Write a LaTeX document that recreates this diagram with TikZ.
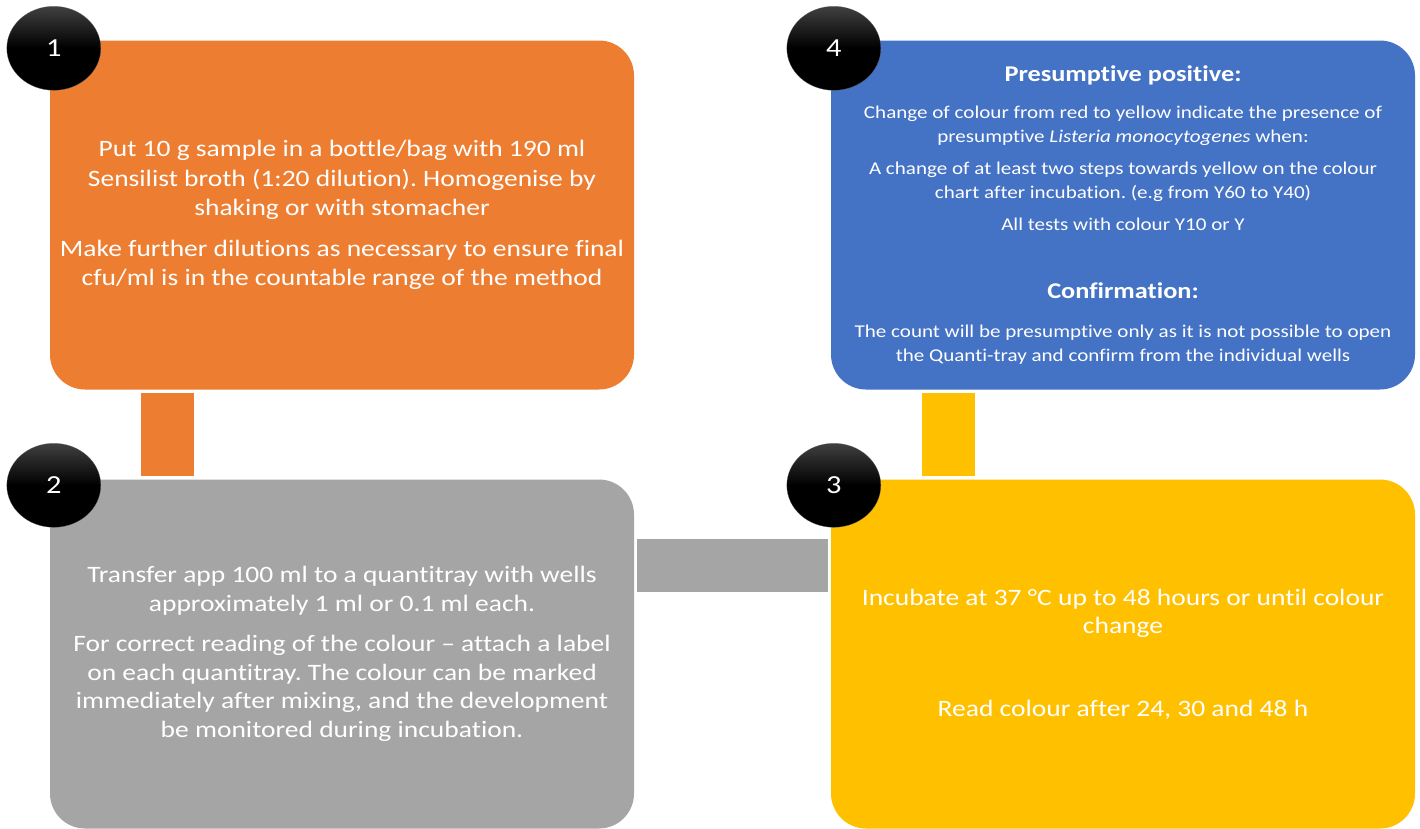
\documentclass[tikz,border=0pt]{standalone}
\usepackage{fontspec}
\setmainfont{Carlito}[FakeStretch=1.17, Ligatures=NoCommon]
\usetikzlibrary{shapes.geometric}
\frenchspacing

\definecolor{stageorange}{HTML}{ED7D31}
\definecolor{stagegray}{HTML}{A5A5A5}
\definecolor{stageyellow}{HTML}{FFC000}
\definecolor{stageblue}{HTML}{4472C4}

\begin{document}
\begin{tikzpicture}[x=1pt, y=-1pt,
  stage box/.style={rectangle, rounded corners=35pt, draw=none, fill=#1, text=white,
    minimum width=584pt, minimum height=349pt, inner sep=0pt, align=center,
    font=\fontsize{23.5}{28.5}\selectfont},
  num node/.style={ellipse, minimum width=94pt, minimum height=84pt, inner sep=0pt,
    top color=black!75, bottom color=black, middle color=black, draw=black!60, very thin,
    text=white, font=\fontsize{26}{28}\selectfont},
  bar/.style={line width=53pt, draw=#1, shorten <=3pt, shorten >=3pt}]

  \useasboundingbox (0,0) rectangle (1420,828);

  \node[stage box=stageorange, font=\fontsize{23.5}{29.5}\selectfont] (1) at (342,215)
    {Put 10 g sample in a bottle/bag with 190 ml\\
    Sensilist broth (1:20 dilution). Homogenise by\\
    shaking or with stomacher\\[11pt]
    Make further dilutions as necessary to ensure final\\
    cfu/ml is in the countable range of the method};
  \node[stage box=stagegray] (2) at (342,654) {Transfer app 100 ml to a quantitray with wells\\
    approximately 1 ml or 0.1 ml each.\\[12pt]
    For correct reading of the colour -- attach a label\\
    on each quantitray. The colour can be marked\\
    immediately after mixing, and the development\\
    be monitored during incubation.};
  \node[stage box=stageyellow] (3) at (1123,654) {Incubate at 37 °C up to 48 hours or until colour\\
    change\\[54pt]
    Read colour after 24, 30 and 48 h};
  \node[stage box=stageblue, font=\fontsize{18}{24}\selectfont] (4) at (1123,215)
    {{\fontsize{22.5}{24}\selectfont\bfseries Presumptive positive:}\\[13pt]
    Change of colour from red to yellow indicate the presence of\\
    presumptive \textit{Listeria monocytogenes} when:\\[8pt]
    A change of at least two steps towards yellow on the colour\\
    chart after incubation. (e.g from Y60 to Y40)\\[8pt]
    All tests with colour Y10 or Y\\[44pt]
    {\fontsize{22.5}{24}\selectfont\bfseries Confirmation:}\\[15pt]
    The count will be presumptive only as it is not possible to open\\
    the Quanti-tray and confirm from the individual wells};

  % connecting bars
  \draw[bar=stageorange] ([xshift=-174.5pt]1.south) -- ([xshift=-174.5pt]2.north);
  \draw[bar=stagegray] ([yshift=89pt]2.east) -- ([yshift=89pt]3.west);
  \draw[bar=stageyellow] ([xshift=-175pt]3.north) -- ([xshift=-175pt]4.south);

  % step numbers
  \node[num node] (n1) at ([shift={(4,8)}]1.north west) {1};
  \node[num node] (n2) at ([shift={(4,6)}]2.north west) {2};
  \node[num node] (n3) at ([shift={(3,6)}]3.north west) {3};
  \node[num node] (n4) at ([shift={(3,8)}]4.north west) {4};
\end{tikzpicture}
\end{document}
